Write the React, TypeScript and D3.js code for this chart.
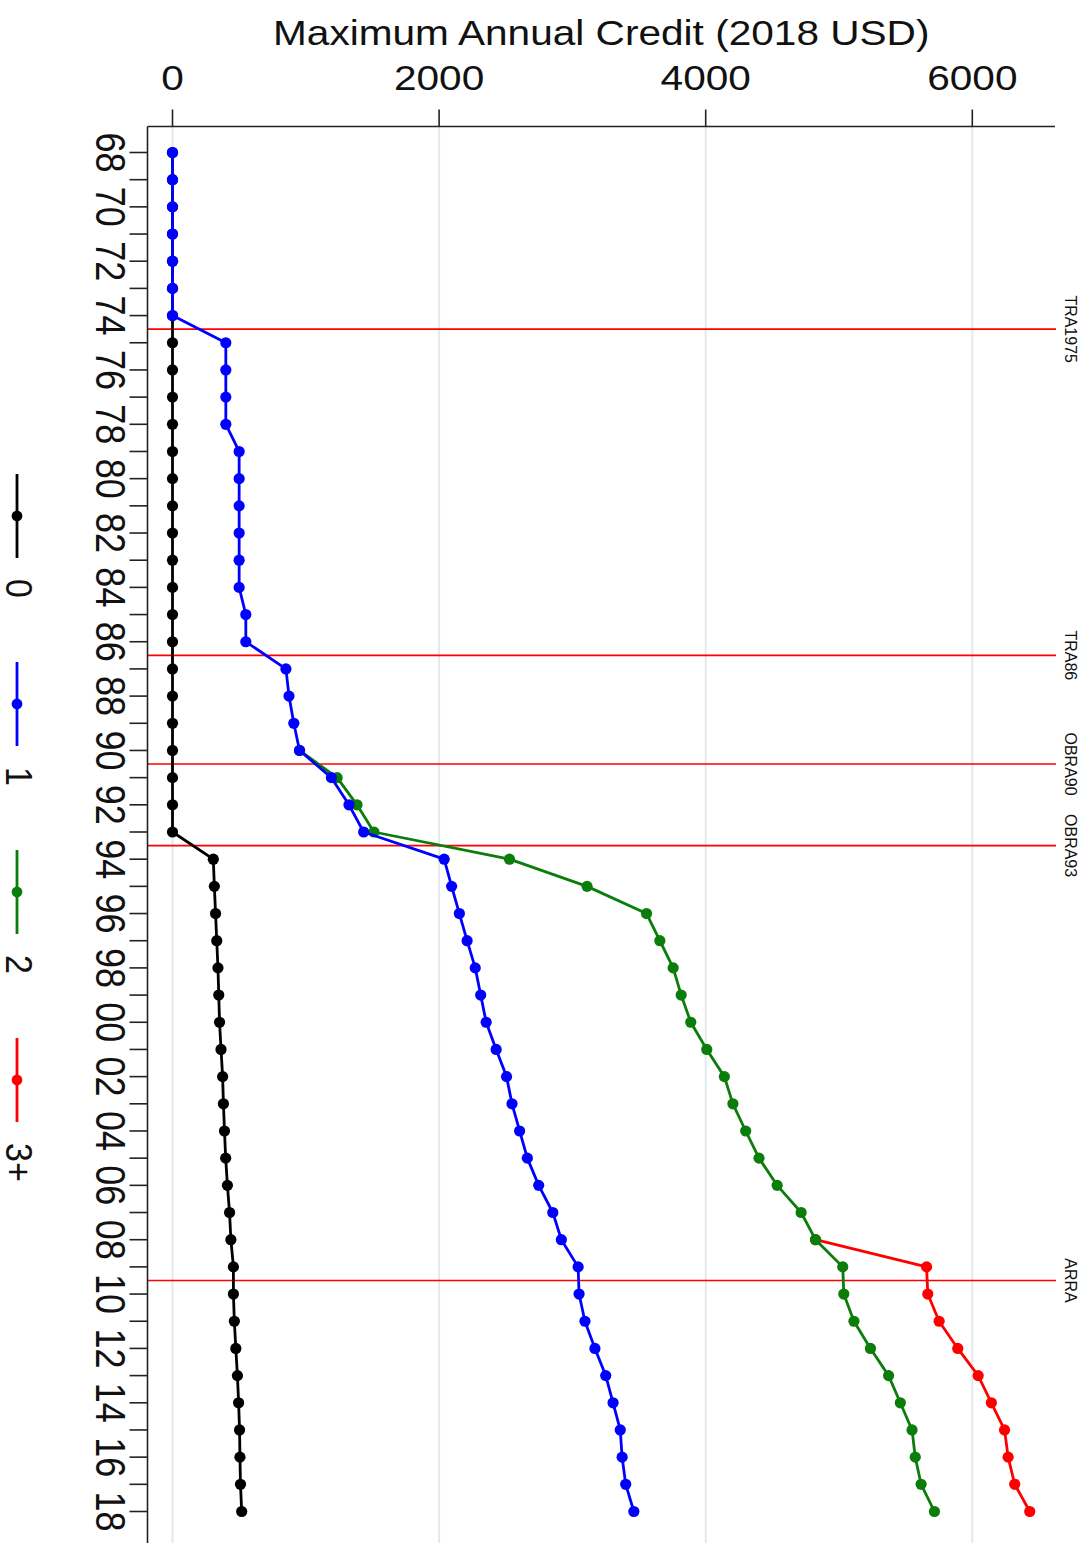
import React from "react";
import * as d3 from "d3";

const years = [
  1968, 1969, 1970, 1971, 1972, 1973, 1974, 1975, 1976, 1977, 1978, 1979, 1980,
  1981, 1982, 1983, 1984, 1985, 1986, 1987, 1988, 1989, 1990, 1991, 1992, 1993,
  1994, 1995, 1996, 1997, 1998, 1999, 2000, 2001, 2002, 2003, 2004, 2005, 2006,
  2007, 2008, 2009, 2010, 2011, 2012, 2013, 2014, 2015, 2016, 2017, 2018,
];

// 0 children (from 1968)
const credit0 = [
  0, 0, 0, 0, 0, 0, 0, 0, 0, 0, 0, 0, 0, 0, 0, 0, 0, 0, 0, 0, 0, 0, 0, 0, 0, 0,
  306, 314, 323, 332, 341, 347, 353, 364, 376, 382, 390, 399, 412, 428, 438,
  457, 457, 464, 475, 487, 496, 503, 506, 510, 519,
];
// 1 child (from 1968)
const credit1 = [
  0, 0, 0, 0, 0, 0, 0, 400, 400, 400, 400, 500, 500, 500, 500, 500, 500, 550,
  550, 851, 874, 910, 953, 1192, 1324, 1434, 2038, 2094, 2152, 2210, 2271, 2312,
  2353, 2428, 2506, 2547, 2604, 2662, 2747, 2853, 2917, 3043, 3050, 3094, 3169,
  3250, 3305, 3359, 3373, 3400, 3461,
];
// 2 children (from 1990)
const credit2Start = 1990;
const credit2 = [
  953, 1235, 1384, 1511, 2528, 3110, 3556, 3656, 3756, 3816, 3888, 4008, 4140,
  4204, 4300, 4400, 4536, 4716, 4824, 5028, 5036, 5112, 5236, 5372, 5460, 5548,
  5572, 5616, 5716,
];
// 3+ children (from 2008)
const credit3Start = 2008;
const credit3 = [4824, 5657, 5666, 5751, 5891, 6044, 6143, 6242, 6269, 6318, 6431];

const seriesLabels = ["0", "1", "2", "3+"];
const seriesColors = ["#000000", "#0000ff", "#0a7d0a", "#ff0000"];
// drawing order (back to front): 3+, 2, 0, 1
const drawOrder = [3, 2, 0, 1];

const xTicks = [0, 2000, 4000, 6000];
const yearTickLabels = [
  "68", "70", "72", "74", "76", "78", "80", "82", "84", "86", "88", "90", "92",
  "94", "96", "98", "00", "02", "04", "06", "08", "10", "12", "14", "16", "18",
];
const eventYears = [1974.5, 1986.5, 1990.5, 1993.5, 2009.5];
const eventLabels = ["TRA1975", "TRA86", "OBRA90", "OBRA93", "ARRA"];

const title = "Maximum Annual Credit (2018 USD)";

const W = 1089;
const H = 1543;
const plotLeft = 147.5;
const plotTop = 126.5;
const plotRight = 1055;
const plotBottom = 1543;
const SX = 1.16;
const FONT = "'Liberation Sans', Arial, Helvetica, sans-serif";

export default function App() {
  const x = d3.scaleLinear().domain([0, 6000]).range([172.5, 972.3]);
  const y = d3.scaleLinear().domain([1968, 2018]).range([152.5, 1511.5]);

  const mk = (start: number, vals: number[]) =>
    vals.map((v, i) => ({ yr: start + i, v }));
  const series = [
    mk(years[0], credit0),
    mk(years[0], credit1),
    mk(credit2Start, credit2),
    mk(credit3Start, credit3),
  ];

  const line = d3
    .line<{ yr: number; v: number }>()
    .x((d) => x(d.v))
    .y((d) => y(d.yr));

  const legendCenters = seriesLabels.map((_, i) => 516 + i * 188);

  return (
    <svg
      width={W}
      height={H}
      style={{ position: "absolute", left: 0, top: 0, background: "#fff" }}
      fontFamily={FONT}
    >
      <rect x={0} y={0} width={W} height={H} fill="#fff" />
      {/* gridlines */}
      {xTicks.map((t) => (
        <line
          key={"g" + t}
          x1={x(t)}
          x2={x(t)}
          y1={plotTop}
          y2={plotBottom}
          stroke="#e1eaec"
          strokeWidth={2}
        />
      ))}
      {/* event lines */}
      {eventYears.map((e, i) => (
        <g key={"e" + i}>
          <line
            x1={plotLeft}
            x2={plotRight + 1}
            y1={y(e)}
            y2={y(e)}
            stroke="#ff0000"
            strokeWidth={1.6}
          />
          <text
            transform={`translate(1071.5, ${y(e)}) scale(1.05,1) rotate(90)`}
            textAnchor="middle"
            dominantBaseline="central"
            fontSize={16}
            fill="#111"
          >
            {eventLabels[i]}
          </text>
        </g>
      ))}
      {/* series */}
      {drawOrder.map((i) => {
        const s = series[i];
        return (
          <g key={"s" + i}>
            <path
              d={line(s) || ""}
              fill="none"
              stroke={seriesColors[i]}
              strokeWidth={2.8}
              strokeLinejoin="round"
            />
            {s.map((d) => (
              <circle
                key={d.yr}
                cx={x(d.v)}
                cy={y(d.yr)}
                r={5.6}
                fill={seriesColors[i]}
              />
            ))}
          </g>
        );
      })}
      {/* axes */}
      <line
        x1={plotLeft}
        x2={plotRight}
        y1={plotTop}
        y2={plotTop}
        stroke="#222"
        strokeWidth={1.6}
      />
      <line
        x1={plotLeft}
        x2={plotLeft}
        y1={plotTop}
        y2={plotBottom}
        stroke="#222"
        strokeWidth={1.6}
      />
      {xTicks.map((t) => (
        <g key={"xt" + t}>
          <line
            x1={x(t)}
            x2={x(t)}
            y1={plotTop}
            y2={plotTop - 17}
            stroke="#222"
            strokeWidth={1.6}
          />
          <text
            transform={`translate(${x(t)}, 90) scale(${SX},1)`}
            textAnchor="middle"
            fontSize={35}
            fill="#111"
          >
            {t}
          </text>
        </g>
      ))}
      {years.map((yr) => (
        <line
          key={"yt" + yr}
          x1={plotLeft}
          x2={plotLeft - 18}
          y1={y(yr)}
          y2={y(yr)}
          stroke="#222"
          strokeWidth={1.6}
        />
      ))}
      {yearTickLabels.map((lab, i) => (
        <text
          key={"yl" + lab}
          transform={`translate(110, ${y(1968 + i * 2)}) scale(${SX},1) rotate(90)`}
          textAnchor="middle"
          dominantBaseline="central"
          fontSize={36}
          fill="#111"
        >
          {lab}
        </text>
      ))}
      {/* title */}
      <text
        transform={`translate(${(plotLeft + plotRight) / 2}, 45) scale(${SX},1)`}
        textAnchor="middle"
        fontSize={35}
        fill="#111"
      >
        {title}
      </text>
      {/* legend */}
      {seriesLabels.map((lab, i) => {
        const c = legendCenters[i];
        return (
          <g key={"lg" + i}>
            <line
              x1={17}
              x2={17}
              y1={c - 42}
              y2={c + 42}
              stroke={seriesColors[i]}
              strokeWidth={2.8}
            />
            <circle cx={17} cy={c} r={5.4} fill={seriesColors[i]} />
            <text
              transform={`translate(19, ${c + 63}) scale(1.1,1) rotate(90)`}
              textAnchor="start"
              dominantBaseline="central"
              fontSize={34}
              fill="#111"
            >
              {lab}
            </text>
          </g>
        );
      })}
    </svg>
  );
}
